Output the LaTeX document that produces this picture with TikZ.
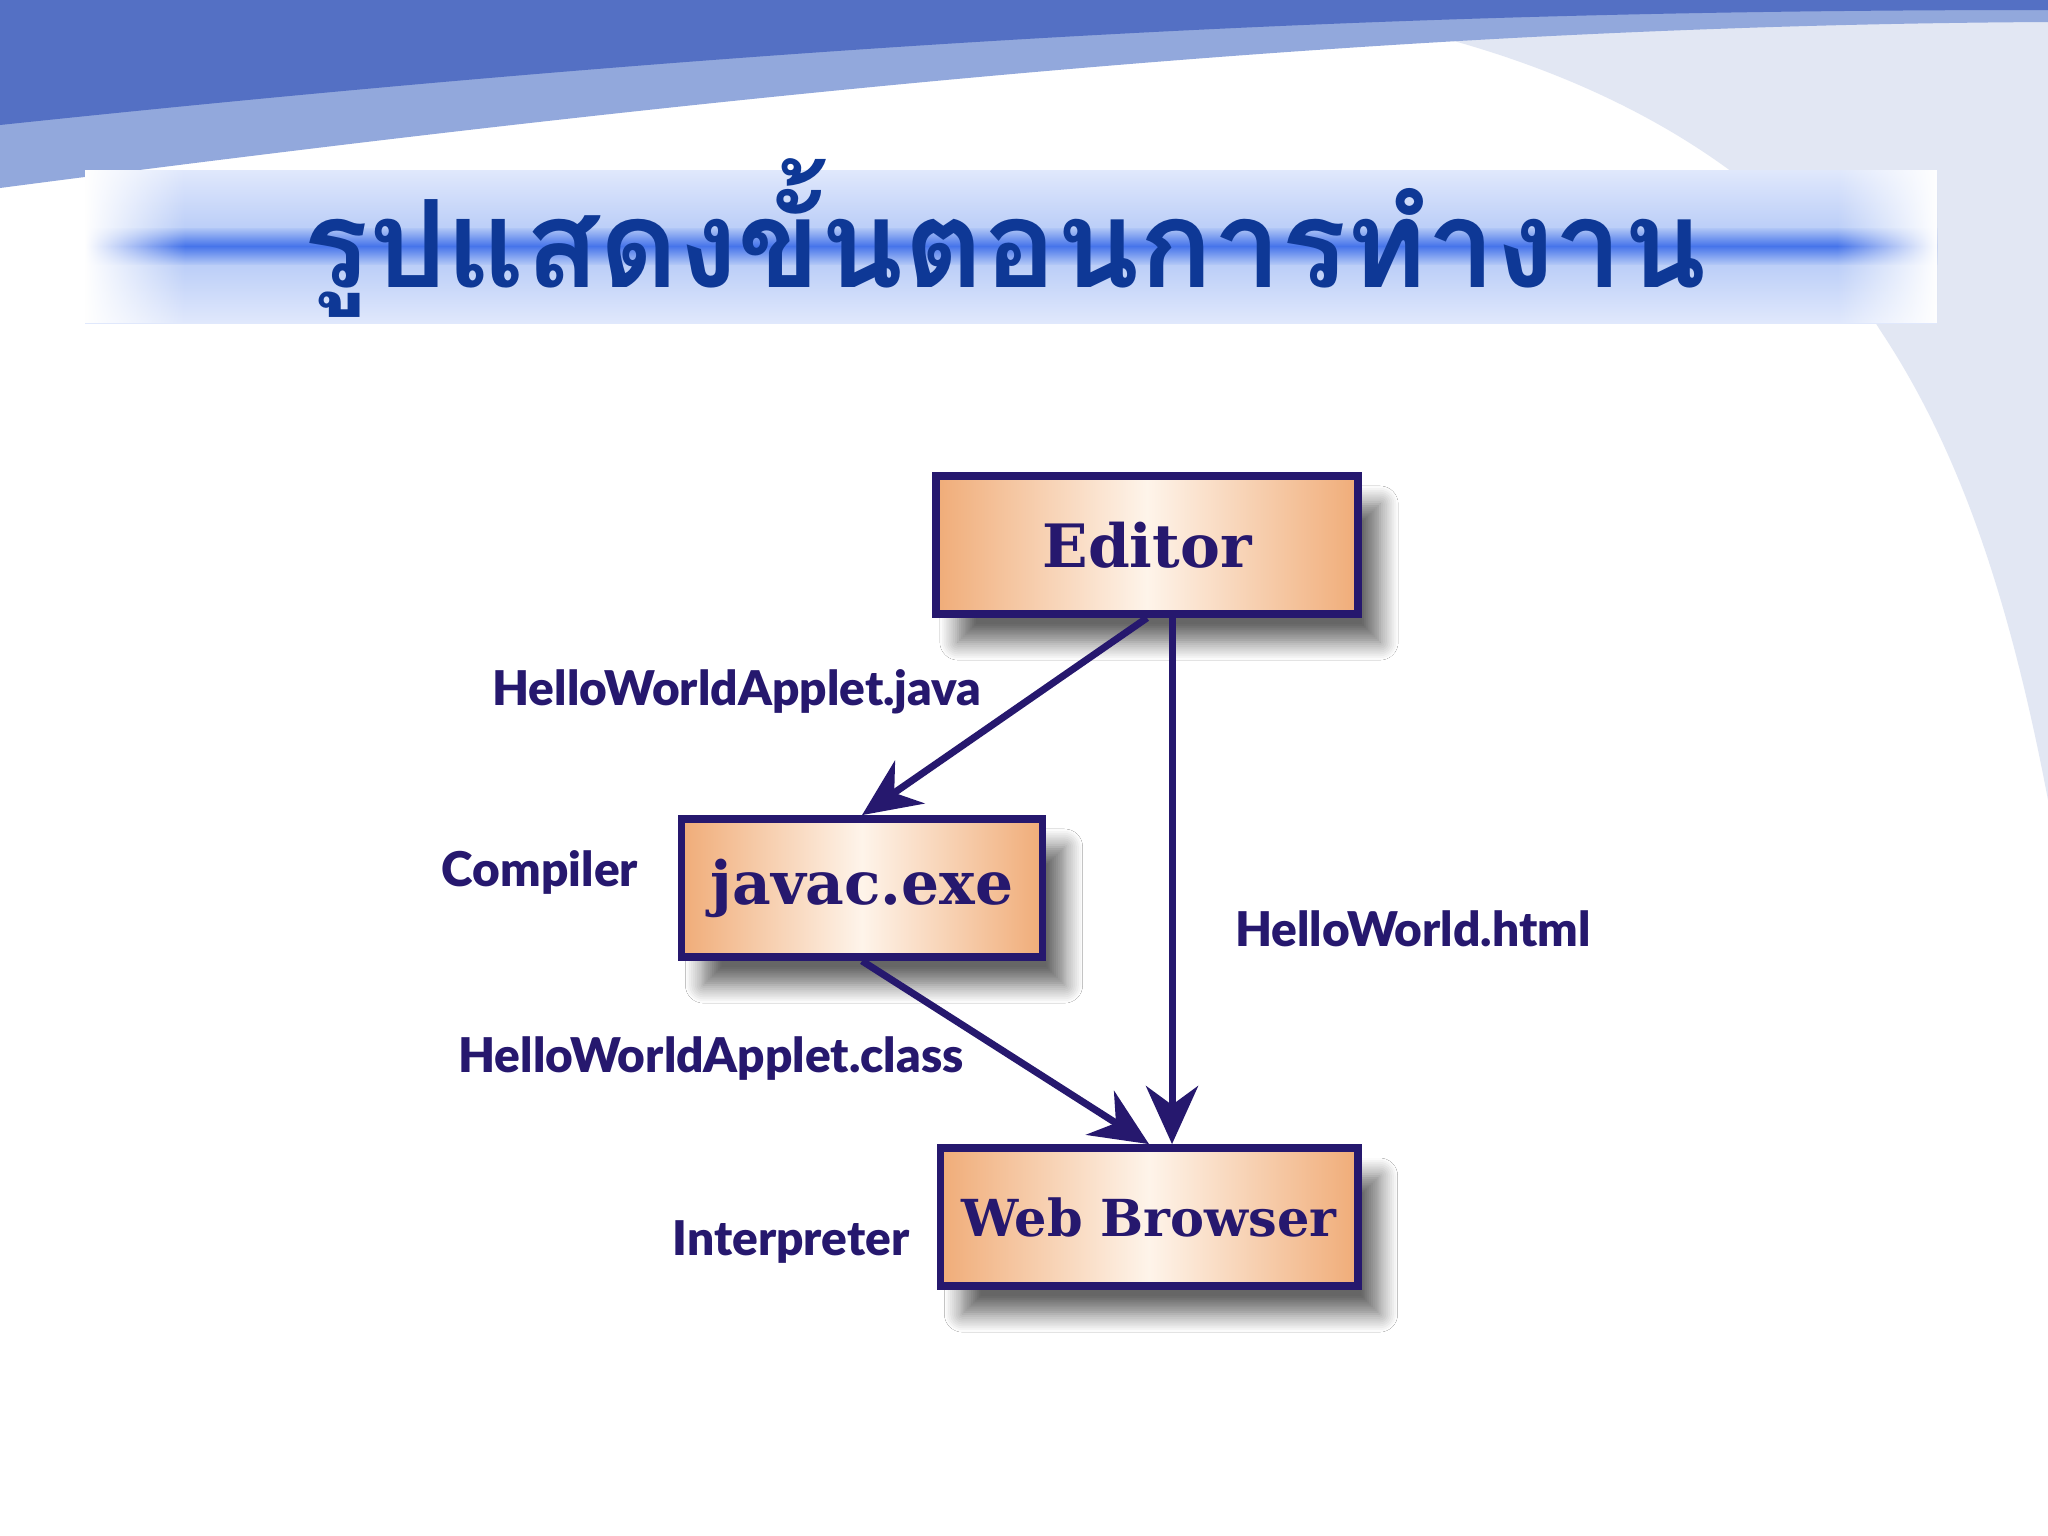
\documentclass[tikz,border=0pt]{standalone}
\usepackage{fontspec}
\newfontfamily\thaifont[Script=Thai]{Loma}
\newfontfamily\labelfont{Lato}[BoldFont={Lato Black}]
\newfontfamily\boxfont{DejaVu Serif}
\usetikzlibrary{arrows.meta,shadows.blur,fadings}
\definecolor{navy}{RGB}{38,24,110}
\definecolor{titleblue}{RGB}{14,56,150}
\definecolor{boxorange}{RGB}{240,172,120}
\definecolor{boxlight}{RGB}{254,244,234}
\definecolor{banddark}{RGB}{84,112,196}
\definecolor{bandlight}{RGB}{146,168,220}
\definecolor{sidegray}{RGB}{226,231,243}
\definecolor{stripeblue}{RGB}{70,116,234}
\definecolor{bandpale}{RGB}{224,232,252}
\definecolor{bandmid}{RGB}{176,198,246}
\tikzset{
  stepbox/.style={draw=navy, line width=2.2pt, rectangle,
    left color=boxorange, right color=boxorange, middle color=boxlight,
    minimum height=1.38cm, text=navy,
    font=\boxfont\bfseries\fontsize{17}{20}\selectfont,
    blur shadow={shadow xshift=0.22cm, shadow yshift=-0.28cm,
      shadow opacity=60, shadow blur radius=0.18cm, shadow blur steps=10}},
  filename/.style={text=navy, font=\labelfont\bfseries\fontsize{13.6}{16}\selectfont},
  flow/.style={draw=navy, line width=2pt, -{Stealth[length=0.58cm, width=0.52cm]}}
}
\begin{document}
\begin{tikzpicture}[x=0.01cm, y=-0.01cm]
\useasboundingbox (0,0) rectangle (2048,1536);
\fill[white] (0,0) rectangle (2048,1536);
% background
\fill[sidegray] (1424,33) .. controls (1650,90) and (1800,200) .. (1880,330)
  .. controls (1960,450) and (2010,600) .. (2048,800) -- (2048,0) -- cycle;
\fill[bandlight] (0,0) -- (2048,0) -- (2048,22) .. controls (1500,25) and (900,70) .. (0,188) -- cycle;
\fill[banddark] (0,0) -- (2048,0) -- (2048,10) .. controls (1500,10) and (900,30) .. (0,125) -- cycle;
% title
\shade[top color=bandpale, bottom color=bandpale, middle color=bandmid] (85,170) rectangle (1937,323);
\shade[top color=bandmid, bottom color=bandmid, middle color=stripeblue] (85,228) rectangle (1937,264);
\fill[white, path fading=east] (85,170) rectangle (185,323);
\fill[white, path fading=west] (1837,170) rectangle (1937,323);
\node[anchor=base, text=titleblue, font=\thaifont\bfseries\fontsize{34.6}{40}\selectfont] (title) at (1005,287) {รูปแสดงขั้นตอนการทำงาน};

\node[stepbox, minimum width=4.22cm] (editor) at (1147,545) {Editor};
\node[stepbox, minimum width=3.61cm] (javac) at (862,888) {javac.exe};
\node[stepbox, minimum width=4.17cm, font=\boxfont\bfseries\fontsize{14.5}{17}\selectfont] (web) at (1149,1217) {Web Browser};

\node[filename] (javafile) at (737,692) {HelloWorldApplet.java};
\node[filename] (compiler) at (540,872) {Compiler};
\node[filename] (htmlfile) at (1413,929) {HelloWorld.html};
\node[filename] (classfile) at (711,1059) {HelloWorldApplet.class};
\node[filename] (interp) at (791,1242) {Interpreter};

\draw[flow] (editor.south) -- (javac.north);
\draw[flow] ([xshift=0.25cm]editor.south) -- ([xshift=0.25cm]editor.south |- web.north);
\draw[flow] (javac.south) -- (web.north);
\end{tikzpicture}
\end{document}
